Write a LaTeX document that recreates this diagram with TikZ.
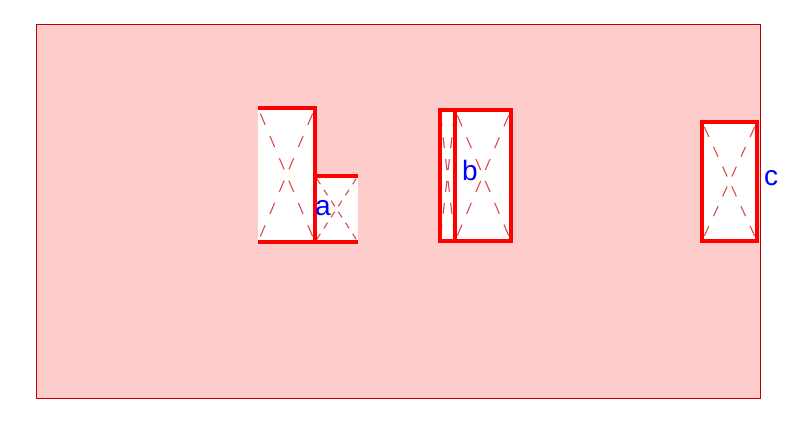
\documentclass[tikz,border=0pt]{standalone}
\usepackage{fontspec}
\setsansfont{Liberation Sans}
\definecolor{dashred}{RGB}{222,72,72}
\begin{document}
\begin{tikzpicture}[x=1pt,y=-1pt,
  bg/.style={fill=red!20, draw=red!75!black, line width=0.8pt},
  boxfill/.style={fill=white, draw=none},
  crossline/.style={draw=dashred, line width=1.1pt, dash pattern=on #1pt off #1pt, dash phase=1.5*#1pt},
  edge/.style={draw=red, line width=3.8pt},
  lbl/.style={text=blue, font=\sffamily\fontsize{28}{32}\selectfont, inner sep=0pt}]
\useasboundingbox (0,0) rectangle (800,429);
\path[bg] (36,24) rectangle (760,398);
% box a
\path[boxfill] (258,108) rectangle (315,242);
\path[crossline=12.13] (258,108) -- (315,242) (315,108) -- (258,242);
\path[boxfill] (315,176) rectangle (358,242);
\path[crossline=6.57] (315,176) -- (358,242) (358,176) -- (315,242);
\path[edge] (258,108) -- (315,108) -- (315,242);
\path[edge] (258,242) -- (358,242);
\path[edge] (315,176) -- (358,176);
\node[lbl] (la) at (323,208) {a};
% box b
\path[boxfill] (440,110) rectangle (511,241);
\path[crossline=10.99] (440,110) -- (455,241) (455,110) -- (440,241);
\path[crossline=11.87] (455,110) -- (511,241) (511,110) -- (455,241);
\path[edge] (440,110) rectangle (455,241);
\path[edge] (455,110) rectangle (511,241);
\node[lbl] (lb) at (470,170) {b};
% box c
\path[boxfill] (702,122) rectangle (757,241);
\path[crossline=10.92] (702,122) -- (757,241) (757,122) -- (702,241);
\path[edge] (702,122) rectangle (757,241);
\node[lbl] (lc) at (771,178) {c};
\end{tikzpicture}
\end{document}
